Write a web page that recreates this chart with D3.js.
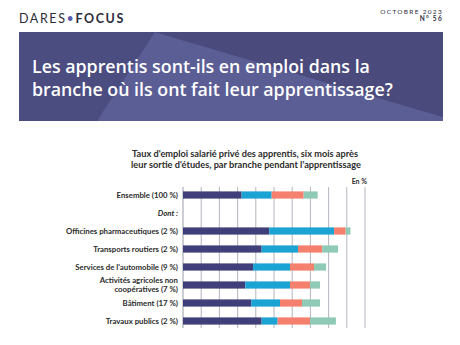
<!DOCTYPE html>
<html><head><meta charset="utf-8">
<script src="https://cdn.jsdelivr.net/npm/d3@7"></script>
<style>
html,body{margin:0;padding:0;background:#fff;}
svg{display:block;}
</style></head>
<body>
<svg id="c" width="460" height="345"></svg>
<script>
const categories = ["Ensemble (100 %)", "Dont :", "Officines pharmaceutiques (2 %)", "Transports routiers (2 %)", "Services de l'automobile (9 %)", "Activités agricoles non|coopératives (7 %)", "Bâtiment (17 %)", "Travaux publics (2 %)"];
const seriesNames = ["s1", "s2", "s3", "s4"];
const s1 = [32.2, null, 47.4, 43.2, 38.5, 34.2, 37.5, 43.2];
const s2 = [16.5, null, 35.6, 20.0, 20.3, 24.6, 15.8, 8.8];
const s3 = [17.6, null, 6.4, 13.3, 13.2, 11.0, 12.1, 17.8];
const s4 = [7.7, null, 2.6, 8.7, 6.6, 5.5, 9.9, 14.2];
const gridTicks = [0,10,20,30,40,50,60,70,80,90,100];
const colors = ["#403f7a", "#1ba3d4", "#f5806e", "#8ecab5"];

const svg = d3.select("#c");

// header
svg.append("text").attr("x", 19).attr("y", 23)
  .style("font-family","Lato, sans-serif").style("font-size","12.5px").style("letter-spacing","1.6px").attr("fill","#2c2c3a")
  .call(t=>{
    t.append("tspan").text("DARES");
    t.append("tspan").attr("fill","#5b5bb0").text("•");
    t.append("tspan").style("font-weight","700").text("FOCUS");
  });
svg.append("text").attr("x", 443).attr("y", 14).attr("text-anchor","end")
  .style("font-family","Lato, sans-serif").style("font-size","6.5px").style("letter-spacing","1.3px").attr("fill","#2c2c3a").text("OCTOBRE 2023");
svg.append("text").attr("x", 443).attr("y", 21).attr("text-anchor","end")
  .style("font-family","Lato, sans-serif").style("font-size","6.5px").style("font-weight","700").style("letter-spacing","1.3px").attr("fill","#2c2c3a").text("N° 56");

// banner
svg.append("rect").attr("x",19).attr("y",32).attr("width",424).attr("height",89).attr("fill","#4b4c80");
svg.append("path").attr("d","M155,32 L97,121 L443,121 L443,117 Z").attr("fill","#5b5d95");
svg.append("path").attr("d","M155,32 L443,117 L443,32 Z").attr("fill","#4a4a7c");
const bt = svg.append("text").style("font-family","'Open Sans', sans-serif").style("font-weight","600").style("font-size","17.8px").attr("fill","#fff");
bt.append("tspan").attr("x",32).attr("y",73).text("Les apprentis sont-ils en emploi dans la");
bt.append("tspan").attr("x",32).attr("y",96).text("branche où ils ont fait leur apprentissage?");

// chart title
const ct = svg.append("text").attr("text-anchor","middle").style("font-family","Lato, sans-serif").style("font-weight","700").style("font-size","9.2px").attr("fill","#2b2b2b");
ct.append("tspan").attr("x",245).attr("y",157).text("Taux d'emploi salarié privé des apprentis, six mois après");
ct.append("tspan").attr("x",246).attr("y",168).text("leur sortie d'études, par branche pendant l'apprentissage");
svg.append("text").attr("x",367).attr("y",184).attr("text-anchor","end").style("font-family","Lato, sans-serif").style("font-weight","700").style("font-size","7px").attr("fill","#2b2b2b").text("En %");

const x = d3.scaleLinear().domain([0,100]).range([183,365]);
const y = d3.scaleBand().domain(categories).range([186,330]).paddingInner(0.6).paddingOuter(0.3);

// gridlines
svg.append("g").selectAll("line").data(gridTicks).join("line")
  .attr("x1",d=>x(d)).attr("x2",d=>x(d)).attr("y1",187).attr("y2",328)
  .attr("stroke",d=>d===0?"#9a9aa8":"#b4b4c0").attr("stroke-width",1);

// bars
const rows = categories.map((c,i)=>({c, vals:[s1[i],s2[i],s3[i],s4[i]]}));
const g = svg.append("g");
rows.forEach(r=>{
  if (r.vals[0]==null) return;
  let acc = 0;
  r.vals.forEach((v,k)=>{
    g.append("rect").attr("x",x(acc)).attr("y",y(r.c)).attr("width",x(acc+v)-x(acc)).attr("height",y.bandwidth()).attr("fill",colors[k]);
    acc += v;
  });
});

// labels
const lab = svg.append("g").style("font-family","Lato, sans-serif").style("font-weight","700").style("font-size","7.8px").attr("fill","#2b2b2b");
categories.forEach(c=>{
  const cy = y(c)+y.bandwidth()/2;
  const parts = c.split("|");
  const t = lab.append("text").attr("text-anchor","end");
  if (c==="Dont :") t.style("font-style","italic");
  parts.forEach((p,i)=>{
    t.append("tspan").attr("x",178).attr("y", cy + 2.7 + (i-(parts.length-1)/2)*9).text(p);
  });
});
</script>
</body></html>
